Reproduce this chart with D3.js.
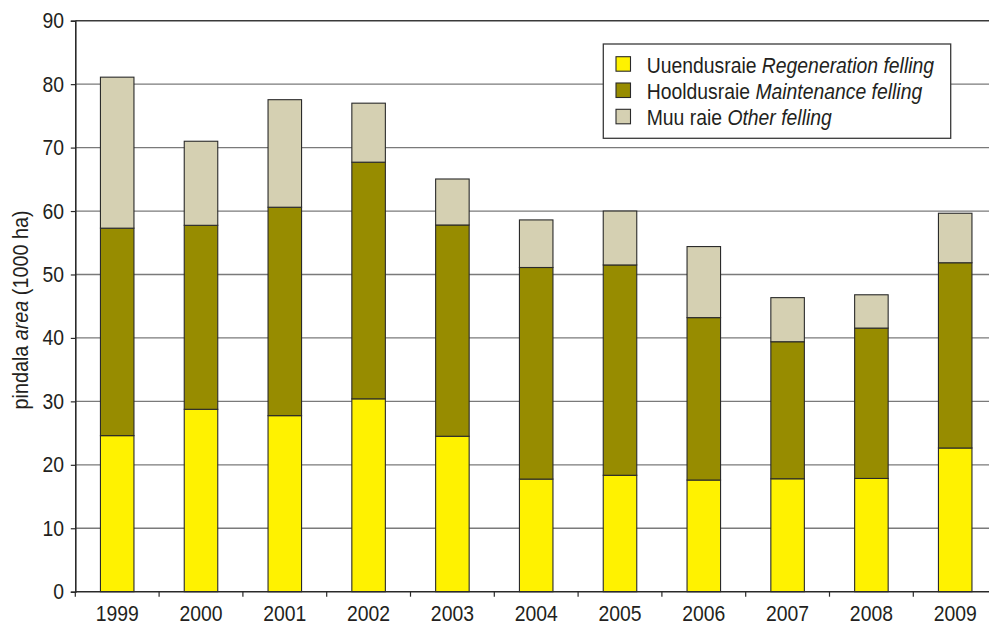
<!DOCTYPE html>
<html><head><meta charset="utf-8">
<script src="https://cdn.jsdelivr.net/npm/d3@7"></script>
<style>
html,body{margin:0;padding:0;background:#fff;overflow:hidden}
svg{display:block}
text{font-family:"Liberation Sans",Arial,Helvetica,sans-serif;fill:#231f20}
</style></head>
<body>
<svg id="chart" width="989" height="625"></svg>
<script>
const years = ["1999","2000","2001","2002","2003","2004","2005","2006","2007","2008","2009"];
const regeneration = [24.6, 28.75, 27.75, 30.4, 24.5, 17.75, 18.35, 17.6, 17.8, 17.85, 22.65];
const maintenance  = [32.7, 29.0, 32.85, 37.3, 33.3, 33.35, 33.15, 25.6, 21.6, 23.7, 29.2];
const other        = [23.8, 13.25, 16.95, 9.3, 7.25, 7.5, 8.5, 11.2, 6.95, 5.25, 7.8];
const yTicks = [0,10,20,30,40,50,60,70,80,90];
const seriesKeys = ["regen","maint","other"];
const seriesColors = ["#fff200","#978c00","#d5d0b2"];
const legendNames = [
  ["Uuendusraie ","Regeneration felling"],
  ["Hooldusraie ","Maintenance felling"],
  ["Muu raie ","Other felling"]
];

(function(){
const SX = 0.88, FS = 22;
const rows = years.map((y,i)=>({year:y, regen:regeneration[i], maint:maintenance[i], other:other[i]}));
const stacked = d3.stack().keys(seriesKeys)(rows);

const svg = d3.select("#chart");
const mLeft = 75.3, mTop = 20.7, mBottom = 591.7, step = 83.8;
const mRight = mLeft + step*years.length;

const x = d3.scaleBand().domain(years).range([mLeft, mRight]).paddingInner(0.6).paddingOuter(0.3);
const y = d3.scaleLinear().domain([0,90]).range([mBottom, mTop]);

svg.append("g").selectAll("line").data(yTicks.filter(t=>t>0 && t<90)).join("line")
  .attr("x1", mLeft).attr("x2", mRight)
  .attr("y1", d=>y(d)).attr("y2", d=>y(d))
  .attr("stroke","#7a7a7a").attr("stroke-width",1.3);

svg.append("line").attr("x1",mLeft).attr("x2",mRight).attr("y1",y(90)).attr("y2",y(90))
  .attr("stroke","#3a3a3a").attr("stroke-width",1.6);

svg.append("g").selectAll("g").data(stacked).join("g")
  .attr("fill",(d,i)=>seriesColors[i])
  .selectAll("rect").data(d=>d).join("rect")
  .attr("x", d=>x(d.data.year))
  .attr("width", x.bandwidth())
  .attr("y", d=>y(d[1]))
  .attr("height", d=>y(d[0])-y(d[1]))
  .attr("stroke","#2a2a2a").attr("stroke-width",1.1);

const yAxis = svg.append("g").attr("transform",`translate(${mLeft},0)`)
  .call(d3.axisLeft(y).tickValues(yTicks).tickSize(4.5).tickPadding(7).tickFormat(d3.format("d")));
yAxis.select(".domain").attr("stroke","#2a2a2a").attr("stroke-width",1.6);
yAxis.selectAll(".tick line").attr("stroke","#2a2a2a").attr("stroke-width",1.2);
yAxis.selectAll(".tick text").attr("font-size",FS).attr("fill","#231f20")
  .attr("font-family",'"Liberation Sans",Arial,Helvetica,sans-serif')
  .attr("x",0).attr("transform",`translate(-11.3,0) scale(${SX},1)`);

const xAxis = svg.append("g").attr("transform",`translate(0,${mBottom})`);
xAxis.append("line").attr("x1",mLeft).attr("x2",mRight).attr("stroke","#2a2a2a").attr("stroke-width",1.6);
const boundaries = d3.range(years.length+1).map(i=>mLeft+i*x.step());
xAxis.selectAll("line.tk").data(boundaries).join("line").attr("class","tk")
  .attr("x1",d=>d).attr("x2",d=>d).attr("y1",0).attr("y2",5)
  .attr("stroke","#2a2a2a").attr("stroke-width",1.2);
xAxis.selectAll("text").data(years).join("text")
  .attr("transform", d=>`translate(${x(d)+x.bandwidth()/2},29) scale(${SX},1)`)
  .attr("text-anchor","middle").attr("font-size",FS).text(d=>d);

const yl = svg.append("text").attr("transform",`translate(28,310) rotate(-90) scale(0.9,1)`)
  .attr("text-anchor","middle").attr("font-size",FS);
yl.append("tspan").text("pindala ");
yl.append("tspan").attr("font-style","italic").text("area");
yl.append("tspan").text(" (1000 ha)");

const lg = svg.append("g");
lg.append("rect").attr("x",603.3).attr("y",44).attr("width",347.4).attr("height",94.3)
  .attr("fill","#fff").attr("stroke","#3a3a3a").attr("stroke-width",1.3);
const li = lg.selectAll("g.item").data(legendNames).join("g").attr("class","item")
  .attr("transform",(d,i)=>`translate(0,${56.7+i*26.3})`);
li.append("rect").attr("x",616).attr("y",0).attr("width",14.5).attr("height",14.5)
  .attr("fill",(d,i)=>seriesColors[i]).attr("stroke","#2a2a2a").attr("stroke-width",1.1);
const lt = li.append("text").attr("transform",`translate(646.7,16) scale(${SX},1)`).attr("font-size",FS);
lt.append("tspan").text(d=>d[0]);
lt.append("tspan").attr("font-style","italic").text(d=>d[1]);
})();
</script>
</body></html>
